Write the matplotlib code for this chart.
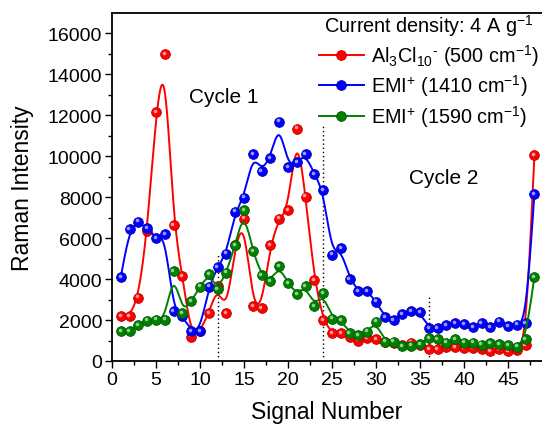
import numpy as np
import matplotlib
matplotlib.use("Agg")
import matplotlib.pyplot as plt
from matplotlib import transforms
from matplotlib.lines import Line2D

plt.rcParams['font.family'] = ['Liberation Sans', 'DejaVu Sans']
plt.rcParams['mathtext.fontset'] = 'custom'
plt.rcParams['mathtext.rm'] = 'Liberation Sans'
plt.rcParams['mathtext.it'] = 'Liberation Sans:italic'
plt.rcParams['mathtext.bf'] = 'Liberation Sans:bold'

signal = list(range(1, 49))
al3cl10 = [2.2, 2.2, 3.1, 6.33, 12.16, 15.0, 6.65, 4.15, 1.19, 1.45,
           2.34, 3.67, 2.33, 5.67, 6.96, 2.70, 2.60, 5.67, 6.96, 7.37,
           11.35, 8.03, 3.97, 2.0, 1.35, 1.35, 1.18, 1.0, 1.12, 1.07,
           0.95, 0.9, 0.8, 0.9, 0.8, 0.59, 0.59, 0.67, 0.67, 0.63,
           0.63, 0.61, 0.5, 0.59, 0.5, 0.54, 0.78, 10.05]
emi1410 = [4.11, 6.44, 6.81, 6.49, 6.0, 6.2, 2.42, 2.2, 1.48, 1.48,
           3.63, 4.57, 5.25, 7.3, 7.98, 10.1, 9.28, 9.93, 11.69, 9.48,
           9.72, 10.11, 9.12, 8.34, 5.2, 5.5, 4.02, 3.42, 3.43, 2.9,
           2.16, 2.01, 2.29, 2.42, 2.37, 1.62, 1.62, 1.76, 1.85, 1.8,
           1.64, 1.85, 1.67, 1.92, 1.72, 1.78, 1.84, 8.15]
emi1590 = [1.48, 1.48, 1.76, 1.97, 2.02, 2.02, 4.41, 2.34, 2.91, 3.63,
           4.26, 3.5, 4.32, 5.67, 7.38, 5.35, 4.2, 3.89, 4.65, 3.79,
           3.27, 3.67, 2.67, 3.3, 2.07, 2.0, 1.38, 1.25, 1.44, 1.92,
           0.95, 0.95, 0.73, 0.75, 0.83, 1.12, 1.07, 0.9, 1.07, 0.9,
           0.9, 0.8, 0.86, 0.83, 0.78, 0.7, 1.07, 4.11]
labels = ['Al$_3$Cl$_{10}$$^{\u2010}$ (500 cm$^{-1}$)',
          'EMI$^{+}$ (1410 cm$^{-1}$)',
          'EMI$^{+}$ (1590 cm$^{-1}$)']
colors = ['#ff0000', '#0000ff', '#008000']
highlights = ['#ff9a9a', '#9a9aff', '#8fd08f']
edges = ['#c00000', '#0000b0', '#005a00']
cycle_bounds = [12, 24, 36]
cycle_tops = [5300, 11550, 3150]


def bspline(x, y, n=24):
    P = np.column_stack([np.asarray(x, float), np.asarray(y, float)])
    P = np.vstack([2 * P[0] - P[1], P, 2 * P[-1] - P[-2]])
    t = np.linspace(0, 1, n, endpoint=False)
    b0 = (1 - t) ** 3 / 6
    b1 = (3 * t ** 3 - 6 * t ** 2 + 4) / 6
    b2 = (-3 * t ** 3 + 3 * t ** 2 + 3 * t + 1) / 6
    b3 = t ** 3 / 6
    out = []
    for i in range(len(P) - 3):
        seg = (np.outer(b0, P[i]) + np.outer(b1, P[i + 1]) +
               np.outer(b2, P[i + 2]) + np.outer(b3, P[i + 3]))
        out.append(seg)
    out.append(((P[-3] + 4 * P[-2] + P[-1]) / 6)[None, :])
    out = np.vstack(out)
    return out[:, 0], out[:, 1]


fig = plt.figure(figsize=(5.42, 4.27), dpi=100)
ax = fig.add_axes([112 / 542, 1 - 362 / 427, 1 - 112 / 542, (362 - 14) / 427])

hl_tr = transforms.offset_copy(ax.transData, fig=fig, x=-1.2, y=1.2, units='dots')
series = [al3cl10, emi1410, emi1590]
for k, (vals, c, hc, ec) in enumerate(zip(series, colors, highlights, edges)):
    yv = np.array(vals) * 1000
    bx, by = bspline(signal, yv)
    z = 2 + k
    ax.plot(bx, by, color=c, lw=1.4, zorder=z)
    ax.plot(signal, yv, ls='none', marker='o', ms=7.0, mfc=c, mec=ec,
            mew=0.6, zorder=z + 0.1)
    ax.plot(signal, yv, ls='none', marker='o', ms=2.6, mfc=hc, mec='none',
            transform=hl_tr, zorder=z + 0.2)

for xb, yt in zip(cycle_bounds, cycle_tops):
    ax.plot([xb, xb], [0, yt], color='black', lw=1.0, ls=(0, (1, 2)), zorder=1)

ax.text(12.7, 12900, 'Cycle 1', fontsize=15, ha='center', va='center')
ax.text(37.7, 8950, 'Cycle 2', fontsize=15, ha='center', va='center')

ax.set_xlim(0, (542 - 112) / 8.8)
ax.set_ylim(0, 17000)
ax.set_xticks(np.arange(0, 50, 5))
ax.set_xticks(np.arange(2.5, 49, 5), minor=True)
ax.set_yticks(np.arange(0, 16001, 2000))
ax.set_yticks(np.arange(1000, 17000, 2000), minor=True)
ax.tick_params(which='both', direction='out', width=1.0, labelsize=14, pad=2)
ax.tick_params(which='major', length=5)
ax.tick_params(which='minor', length=3)
ax.spines['right'].set_visible(False)
for s in ['left', 'bottom', 'top']:
    ax.spines[s].set_linewidth(1.3)
ax.set_xlabel('Signal Number', fontsize=16.5, labelpad=9)
ax.set_ylabel('Raman Intensity', fontsize=16.5, labelpad=10)

handles = [Line2D([], [], color=c, lw=1.4, marker='o', ms=7.0, mfc=c, mec=ec, mew=0.6)
           for c, ec in zip(colors, edges)]
leg = ax.legend(handles, labels, title=r'Current density: 4 A g$^{-1}$',
                loc='upper right', bbox_to_anchor=(1.0, 1.0 + 4 / 348),
                frameon=False,
                fontsize=14.3, title_fontsize=14.3, handlelength=2.3,
                handletextpad=0.35, labelspacing=0.22, borderpad=0.15,
                borderaxespad=0.0)

fig.savefig('out.png', dpi=100)
